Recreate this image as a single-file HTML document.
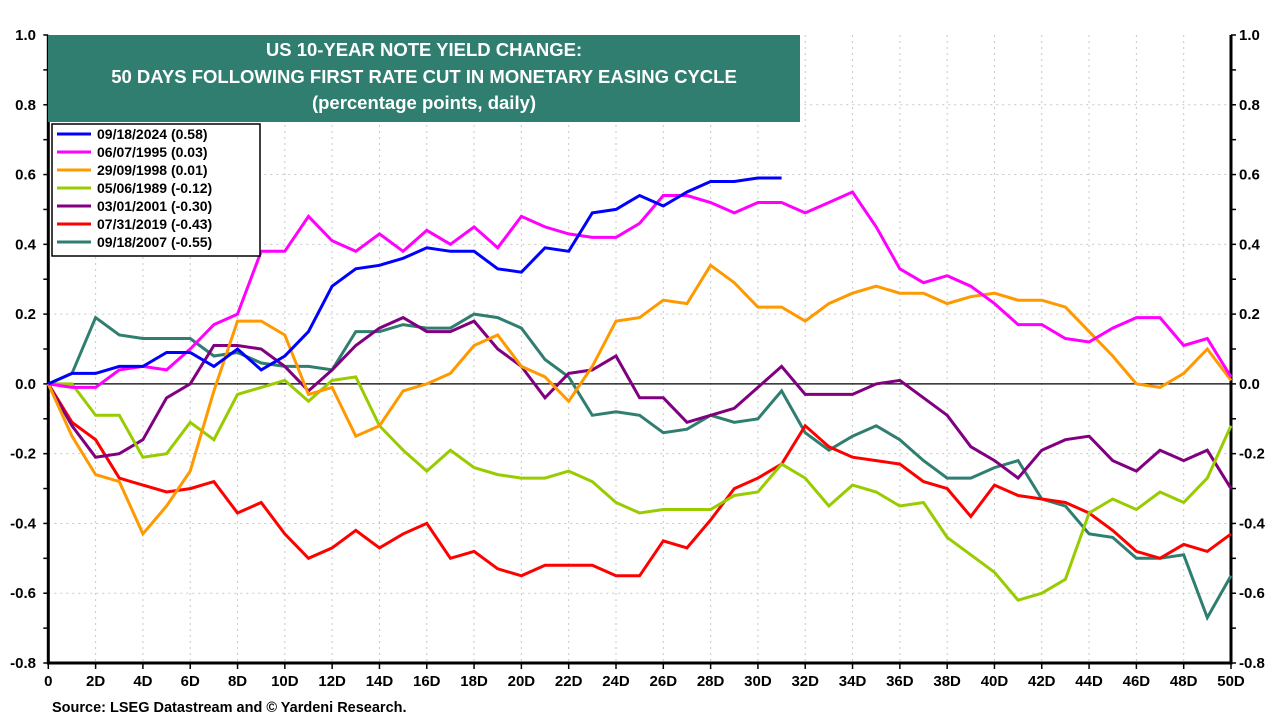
<!DOCTYPE html>
<html><head><meta charset="utf-8"><style>
html,body{margin:0;padding:0;background:#fff;}
body{width:1280px;height:720px;overflow:hidden;font-family:"Liberation Sans",Arial,sans-serif;}
</style></head><body>
<svg id="chart" width="1280" height="720" xmlns="http://www.w3.org/2000/svg" font-family="Liberation Sans, Arial, sans-serif">
<g id="grid"></g>
<g id="axes"></g>
<g id="series"></g>
<g>
<rect x="48" y="35" width="752" height="87" fill="#2f7e70"/>
<text x="424" y="56" fill="#fff" font-size="18.5" font-weight="bold" text-anchor="middle">US 10-YEAR NOTE YIELD CHANGE:</text>
<text x="424" y="83" fill="#fff" font-size="18.5" font-weight="bold" text-anchor="middle">50 DAYS FOLLOWING FIRST RATE CUT IN MONETARY EASING CYCLE</text>
<text x="424" y="109" fill="#fff" font-size="18.5" font-weight="bold" text-anchor="middle">(percentage points, daily)</text>
</g>
<g id="legend">
<rect x="52" y="124" width="208" height="132" fill="#fff" stroke="#000" stroke-width="1.5"/>
</g>
<text x="52" y="712" font-size="14.5" font-weight="bold">Source: LSEG Datastream and © Yardeni Research.</text>
</svg>
<script>
const days = Array.from({length:51},(_,i)=>i);
const s2024 = [0,0.03,0.03,0.05,0.05,0.09,0.09,0.05,0.10,0.04,0.08,0.15,0.28,0.33,0.34,0.36,0.39,0.38,0.38,0.33,0.32,0.39,0.38,0.49,0.50,0.54,0.51,0.55,0.58,0.58,0.59,0.59];
const s1995 = [0,-0.01,-0.01,0.04,0.05,0.04,0.10,0.17,0.20,0.38,0.38,0.48,0.41,0.38,0.43,0.38,0.44,0.40,0.45,0.39,0.48,0.45,0.43,0.42,0.42,0.46,0.54,0.54,0.52,0.49,0.52,0.52,0.49,0.52,0.55,0.45,0.33,0.29,0.31,0.28,0.23,0.17,0.17,0.13,0.12,0.16,0.19,0.19,0.11,0.13,0.02];
const s1998 = [0,-0.15,-0.26,-0.28,-0.43,-0.35,-0.25,-0.02,0.18,0.18,0.14,-0.03,-0.01,-0.15,-0.12,-0.02,0.00,0.03,0.11,0.14,0.05,0.02,-0.05,0.05,0.18,0.19,0.24,0.23,0.34,0.29,0.22,0.22,0.18,0.23,0.26,0.28,0.26,0.26,0.23,0.25,0.26,0.24,0.24,0.22,0.15,0.08,0.00,-0.01,0.03,0.10,0.01];
const s1989 = [0,0,-0.09,-0.09,-0.21,-0.20,-0.11,-0.16,-0.03,-0.01,0.01,-0.05,0.01,0.02,-0.12,-0.19,-0.25,-0.19,-0.24,-0.26,-0.27,-0.27,-0.25,-0.28,-0.34,-0.37,-0.36,-0.36,-0.36,-0.32,-0.31,-0.23,-0.27,-0.35,-0.29,-0.31,-0.35,-0.34,-0.44,-0.49,-0.54,-0.62,-0.60,-0.56,-0.37,-0.33,-0.36,-0.31,-0.34,-0.27,-0.12];
const s2001 = [0,-0.12,-0.21,-0.20,-0.16,-0.04,0.00,0.11,0.11,0.10,0.05,-0.02,0.04,0.11,0.16,0.19,0.15,0.15,0.18,0.10,0.05,-0.04,0.03,0.04,0.08,-0.04,-0.04,-0.11,-0.09,-0.07,-0.01,0.05,-0.03,-0.03,-0.03,0.00,0.01,-0.04,-0.09,-0.18,-0.22,-0.27,-0.19,-0.16,-0.15,-0.22,-0.25,-0.19,-0.22,-0.19,-0.30];
const s2019 = [0,-0.11,-0.16,-0.27,-0.29,-0.31,-0.30,-0.28,-0.37,-0.34,-0.43,-0.50,-0.47,-0.42,-0.47,-0.43,-0.40,-0.50,-0.48,-0.53,-0.55,-0.52,-0.52,-0.52,-0.55,-0.55,-0.45,-0.47,-0.39,-0.30,-0.27,-0.23,-0.12,-0.18,-0.21,-0.22,-0.23,-0.28,-0.30,-0.38,-0.29,-0.32,-0.33,-0.34,-0.37,-0.42,-0.48,-0.50,-0.46,-0.48,-0.43];
const s2007 = [0,0.03,0.19,0.14,0.13,0.13,0.13,0.08,0.09,0.06,0.05,0.05,0.04,0.15,0.15,0.17,0.16,0.16,0.20,0.19,0.16,0.07,0.02,-0.09,-0.08,-0.09,-0.14,-0.13,-0.09,-0.11,-0.10,-0.02,-0.14,-0.19,-0.15,-0.12,-0.16,-0.22,-0.27,-0.27,-0.24,-0.22,-0.33,-0.35,-0.43,-0.44,-0.50,-0.50,-0.49,-0.67,-0.55];
const yTicks = [1.0,0.8,0.6,0.4,0.2,0.0,-0.2,-0.4,-0.6,-0.8];
const xTickLabels = ["0","2D","4D","6D","8D","10D","12D","14D","16D","18D","20D","22D","24D","26D","28D","30D","32D","34D","36D","38D","40D","42D","44D","46D","48D","50D"];
const legendLabels = ["09/18/2024 (0.58)","06/07/1995 (0.03)","29/09/1998 (0.01)","05/06/1989 (-0.12)","03/01/2001 (-0.30)","07/31/2019 (-0.43)","09/18/2007 (-0.55)"];

const NS="http://www.w3.org/2000/svg";
const X0=48.3,X1=1231,Y0=663,Y1=35,VMIN=-0.8,VMAX=1.0;
const xs=d=>X0+(X1-X0)*d/50;
const ys=v=>Y0-(Y0-Y1)*(v-VMIN)/(VMAX-VMIN);
function mk(tag,attrs,parent,text){const e=document.createElementNS(NS,tag);for(const k in attrs)e.setAttribute(k,attrs[k]);if(text!==undefined)e.textContent=text;parent.appendChild(e);return e;}
const grid=document.getElementById('grid'),axes=document.getElementById('axes'),ser=document.getElementById('series'),leg=document.getElementById('legend');
yTicks.forEach(v=>{
  const y=ys(v);
  if(v!==0&&v!==VMIN&&v!==VMAX){const l=mk('line',{x1:X0,x2:X1,y1:y,y2:y,stroke:'#c8c8c8','stroke-dasharray':'2,4'},grid);}
  const t1=mk('text',{x:36,y:y+5,'font-size':15,'font-weight':'bold','text-anchor':'end'},axes,v.toFixed(1));
  
  const t2=mk('text',{x:1239,y:y+5,'font-size':15,'font-weight':'bold'},axes,v.toFixed(1));
  
});
for(let v=-0.8;v<=1.001;v+=0.1){const y=ys(v);mk('line',{x1:X0-5,x2:X0,y1:y,y2:y,stroke:'#000','stroke-width':1.5},axes);mk('line',{x1:X1,x2:X1+5,y1:y,y2:y,stroke:'#000','stroke-width':1.5},axes);}
xTickLabels.forEach((lab,i)=>{
  const d=i*2,x=xs(d);
  if(d>0&&d<50){const l=mk('line',{x1:x,x2:x,y1:Y1,y2:Y0,stroke:'#c8c8c8','stroke-dasharray':'2,4'},grid);}
  mk('line',{x1:x,x2:x,y1:Y0,y2:Y0+6,stroke:'#000','stroke-width':1.5},axes);
  const t=mk('text',{x:x,y:686,'font-size':15,'font-weight':'bold','text-anchor':'middle'},axes,lab);
  
});
mk('line',{x1:X0,x2:X1,y1:ys(0),y2:ys(0),stroke:'#000','stroke-width':1.2},axes);
mk('line',{x1:X0,x2:X0,y1:Y1,y2:Y0+1.5,stroke:'#000','stroke-width':3},axes);
mk('line',{x1:X1,x2:X1,y1:Y1,y2:Y0+1.5,stroke:'#000','stroke-width':3},axes);
mk('line',{x1:X0,x2:X1,y1:Y0,y2:Y0,stroke:'#000','stroke-width':3},axes);
const all=[s2024,s1995,s1998,s1989,s2001,s2019,s2007];
const colors=['#0000ff','#ff00ff','#ff9900','#99cc00','#800080','#ff0000','#2f7e70'];
const names=['series-2024','series-1995','series-1998','series-1989','series-2001','series-2019','series-2007'];
for(let k=all.length-1;k>=0;k--){
  const pts=all[k].map((v,i)=>xs(days[i]).toFixed(1)+','+ys(v).toFixed(1)).join(' ');
  const p=mk('polyline',{points:pts,fill:'none',stroke:colors[k],'stroke-width':3,'stroke-linejoin':'miter'},ser);
  
}
legendLabels.forEach((lab,k)=>{
  const y=134+k*18;
  mk('line',{x1:57,x2:91,y1:y,y2:y,stroke:colors[k],'stroke-width':3},leg);
  const t=mk('text',{x:97,y:y+5,'font-size':14,'font-weight':'bold'},leg,lab);
  
});
</script>
</body></html>
